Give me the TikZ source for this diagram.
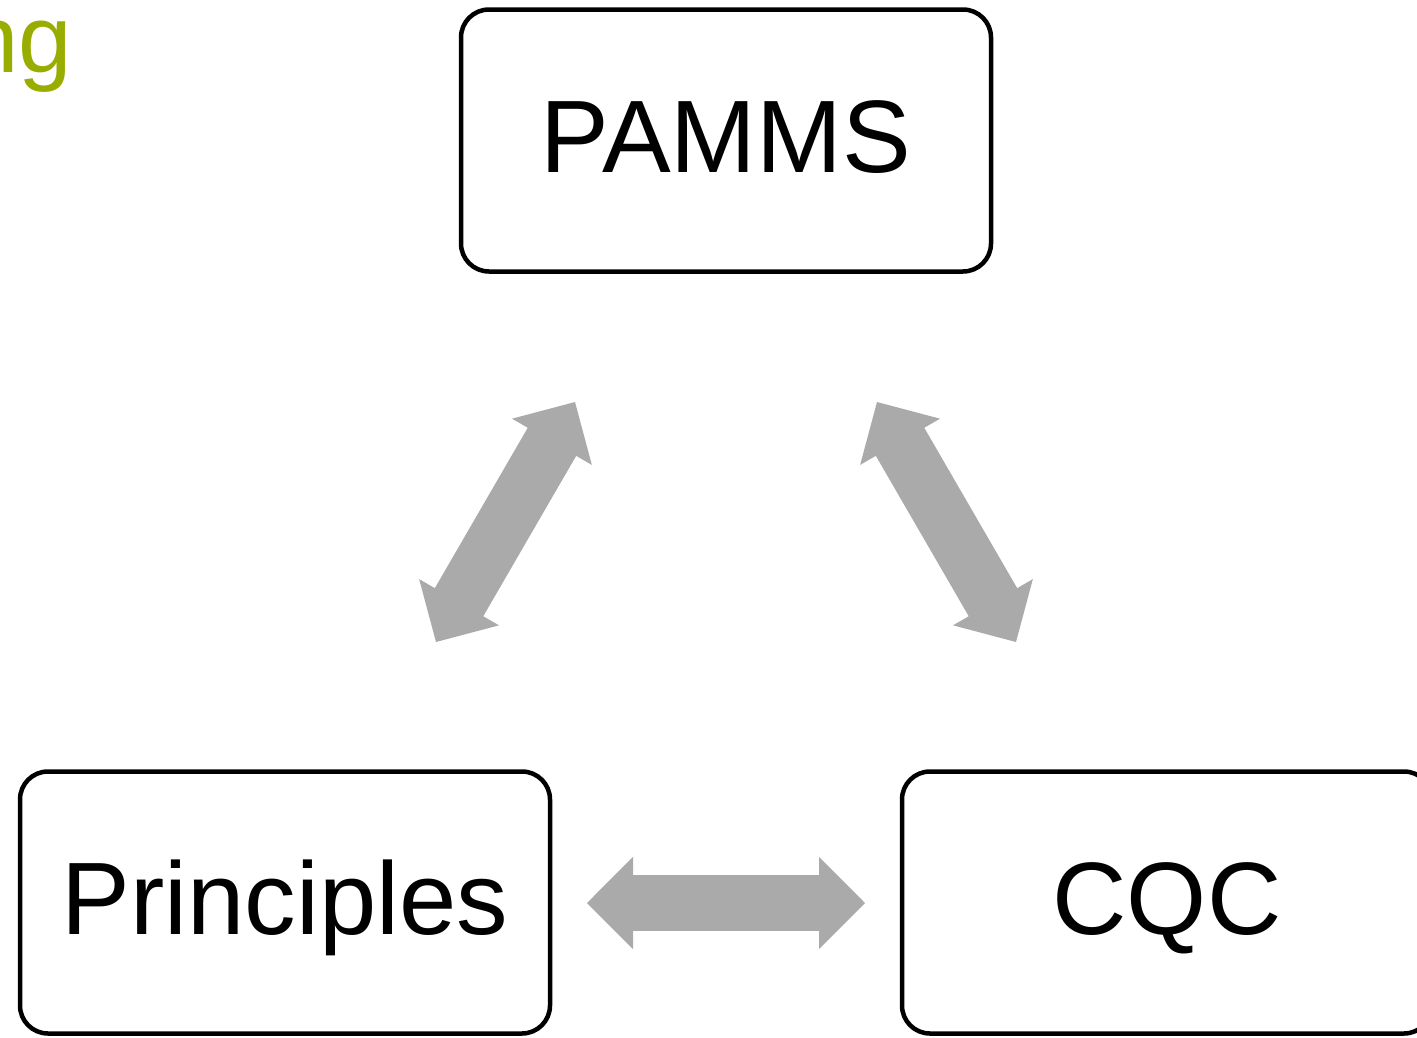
\documentclass[tikz,border=0pt]{standalone}
\usepackage{fontspec}
\setmainfont{Liberation Sans}
\usetikzlibrary{arrows.meta}
\definecolor{olivetitle}{RGB}{153,172,0}
\definecolor{arrowgray}{RGB}{170,170,170}
\begin{document}
\begin{tikzpicture}[x=1pt,y=-1pt,
  box/.style={draw=black, line width=4.5pt, rounded corners=28pt, fill=white,
    minimum width=530pt, minimum height=262pt, inner sep=0pt,
    font=\fontsize{103}{118}\selectfont, text height=74pt, text depth=10pt},
  bigarrow/.style={draw=arrowgray, line width=56pt,
    {Triangle[width=92pt,length=46pt,line width=1.5pt]}-{Triangle[width=92pt,length=46pt,line width=1.5pt]}}
]
\useasboundingbox (0,0) rectangle (1417,1037);
\node[anchor=base east, inner sep=0pt, text=olivetitle, font=\fontsize{96}{110}\selectfont] (title) at (72,72) {ng};
\node[box] (pamms) at (726,140.5) {PAMMS};
\node[box] (princ) at (285,902.5) {Principles};
\node[box] (cqc) at (1167,902.5) {CQC};
\coordinate (a1) at (436,642);
\coordinate (a2) at (575,402);
\coordinate (b1) at (877,402);
\coordinate (b2) at (1016,642);
\coordinate (c1) at (587,903);
\coordinate (c2) at (865,903);
\draw[bigarrow] (a1) -- (a2);
\draw[bigarrow] (b1) -- (b2);
\draw[bigarrow] (c1) -- (c2);
\end{tikzpicture}
\end{document}
